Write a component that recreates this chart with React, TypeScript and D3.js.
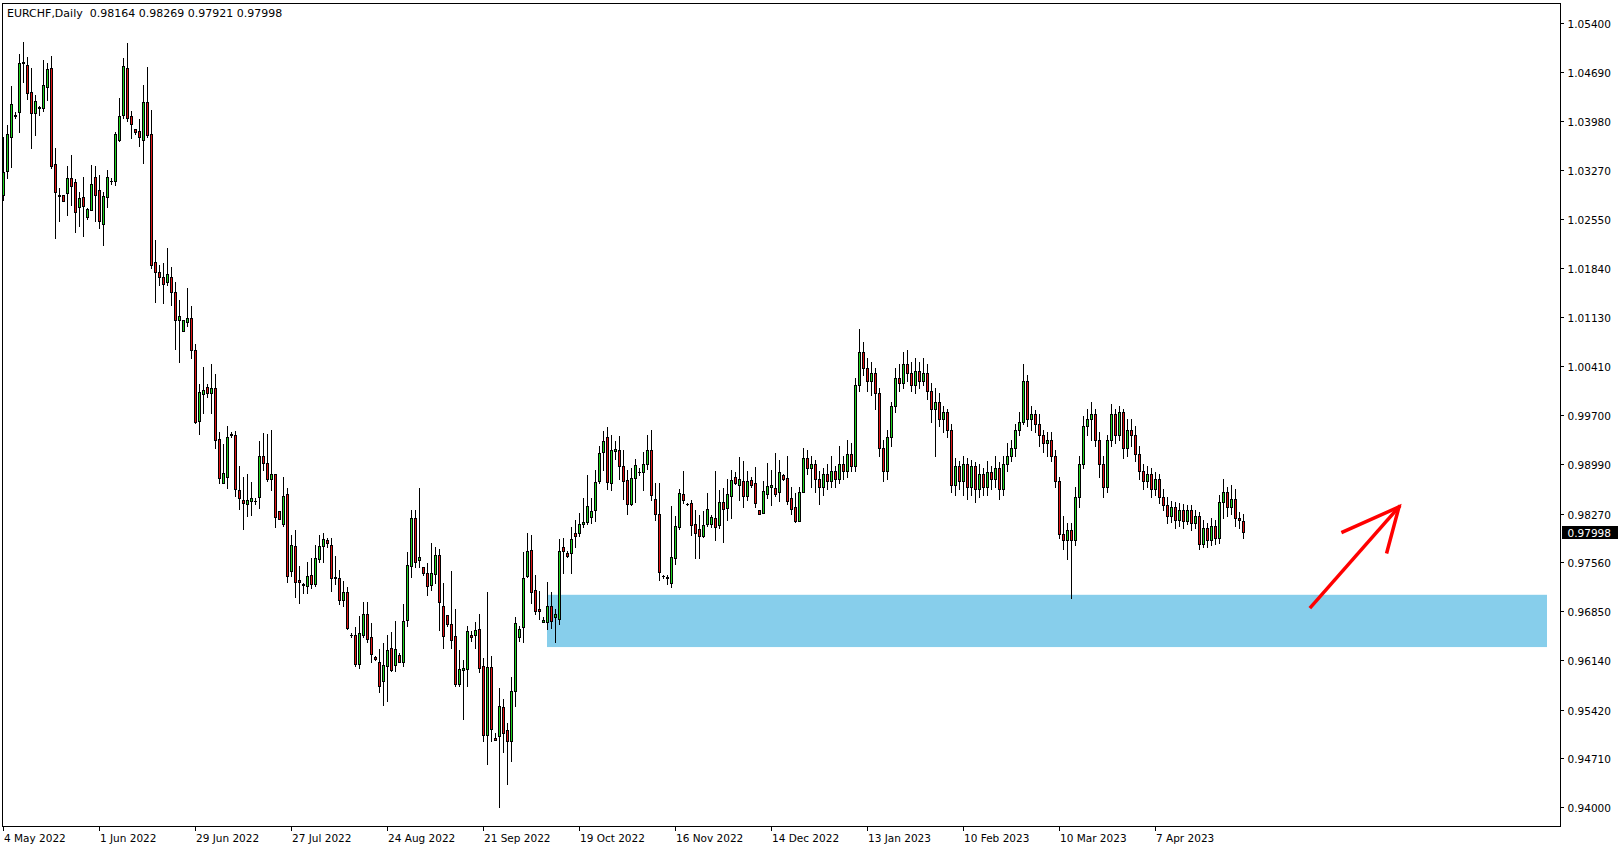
import React from 'react';
import * as d3 from 'd3';

// EURCHF Daily OHLC values (bar index 0 = 4 May 2022)
const opens = [
1.0290,1.0325,1.0374,1.0405,1.0411,1.0483,1.0480,1.0440,1.0409,1.0417,
1.0417,1.0447,1.0475,1.0335,1.0289,1.0291,1.0293,1.0315,1.0309,1.0273,
1.0287,1.0258,1.0269,1.0316,1.0297,1.0248,1.0288,1.0310,1.0310,1.0370,
1.0406,1.0475,1.0405,1.0386,1.0384,1.0371,1.0425,1.0379,1.0193,1.0179,
1.0171,1.0164,1.0171,1.0150,1.0108,1.0092,1.0105,1.0111,1.0065,0.9961,
1.0001,1.0011,1.0003,1.0009,0.9935,0.9871,0.9880,0.9942,0.9941,0.9862,
0.9847,0.9841,0.9846,0.9845,0.9851,0.9911,0.9900,0.9877,0.9884,0.9831,
0.9812,0.9856,0.9743,0.9780,0.9731,0.9723,0.9722,0.9738,0.9724,0.9761,
0.9780,0.9788,0.9781,0.9735,0.9733,0.9701,0.9713,0.9650,0.9650,0.9609,
0.9650,0.9681,0.9647,0.9619,0.9611,0.9583,0.9606,0.9631,0.9607,0.9622,
0.9612,0.9672,0.9751,0.9820,0.9759,0.9749,0.9740,0.9723,0.9739,0.9767,
0.9693,0.9679,0.9666,0.9649,0.9580,0.9599,0.9601,0.9651,0.9650,0.9659,
0.9606,0.9505,0.9604,0.9501,0.9504,0.9546,0.9512,0.9497,0.9569,0.9647,
0.9662,0.9736,0.9774,0.9716,0.9689,0.9669,0.9669,0.9693,0.9676,0.9674,
0.9779,0.9770,0.9770,0.9799,0.9799,0.9812,0.9815,0.9822,0.9833,0.9874,
0.9916,0.9938,0.9871,0.9918,0.9920,0.9896,0.9876,0.9841,0.9879,0.9887,
0.9888,0.9899,0.9920,0.9848,0.9827,0.9737,0.9734,0.9726,0.9762,0.9807,
0.9856,0.9841,0.9843,0.9812,0.9804,0.9794,0.9812,0.9812,0.9821,0.9810,
0.9844,0.9835,0.9853,0.9881,0.9869,0.9875,0.9852,0.9876,0.9872,0.9833,
0.9828,0.9855,0.9866,0.9864,0.9859,0.9883,0.9879,0.9850,0.9836,0.9817,
0.9859,0.9908,0.9893,0.9899,0.9878,0.9866,0.9884,0.9874,0.9889,0.9878,
0.9899,0.9889,0.9914,0.9896,1.0014,1.0062,1.0039,1.0020,1.0032,1.0002,
0.9923,0.9889,0.9939,0.9984,1.0024,1.0017,1.0044,1.0032,1.0014,1.0035,
1.0020,1.0032,1.0005,0.9979,0.9990,0.9964,0.9975,0.9949,0.9869,0.9896,
0.9874,0.9899,0.9866,0.9896,0.9863,0.9884,0.9866,0.9887,0.9878,0.9893,
0.9863,0.9899,0.9911,0.9923,0.9949,0.9960,1.0020,0.9964,0.9972,0.9957,
0.9942,0.9930,0.9934,0.9911,0.9874,0.9798,0.9788,0.9803,0.9788,0.9851,
0.9899,0.9954,0.9964,0.9972,0.9934,0.9899,0.9866,0.9934,0.9972,0.9942,
0.9975,0.9923,0.9949,0.9942,0.9914,0.9889,0.9874,0.9884,0.9863,0.9878,
0.9851,0.9839,0.9824,0.9836,0.9818,0.9833,0.9817,0.9832,0.9814,0.9824,
0.9783,0.9806,0.9788,0.9809,0.9791,0.9844,0.9859,0.9836,0.9848,0.9821,
0.98164];

const highs = [
1.0375,1.0392,1.0449,1.0411,1.0495,1.0513,1.0491,1.0475,1.0436,1.0420,
1.0487,1.0482,1.0492,1.0358,1.0301,1.0291,1.0333,1.0348,1.0314,1.0295,
1.0317,1.0271,1.0334,1.0333,1.0319,1.0295,1.0327,1.0315,1.0382,1.0431,
1.0490,1.0511,1.0413,1.0387,1.0401,1.0450,1.0477,1.0414,1.0225,1.0189,
1.0191,1.0213,1.0185,1.0164,1.0138,1.0109,1.0155,1.0129,1.0074,1.0016,
1.0040,1.0015,1.0045,1.0030,0.9946,0.9928,0.9954,0.9946,0.9947,0.9896,
0.9881,0.9884,0.9873,0.9850,0.9933,0.9944,0.9943,0.9949,0.9884,0.9831,
0.9880,0.9864,0.9796,0.9803,0.9751,0.9726,0.9756,0.9762,0.9782,0.9796,
0.9799,0.9791,0.9791,0.9766,0.9745,0.9729,0.9720,0.9653,0.9662,0.9678,
0.9699,0.9699,0.9668,0.9620,0.9630,0.9639,0.9651,0.9655,0.9671,0.9624,
0.9695,0.9771,0.9833,0.9833,0.9864,0.9749,0.9755,0.9785,0.9778,0.9776,
0.9726,0.9679,0.9744,0.9689,0.9628,0.9614,0.9664,0.9657,0.9670,0.9681,
0.9617,0.9713,0.9620,0.9508,0.9573,0.9557,0.9522,0.9590,0.9677,0.9664,
0.9771,0.9799,0.9796,0.9738,0.9714,0.9676,0.9727,0.9713,0.9689,0.9790,
0.9792,0.9773,0.9807,0.9818,0.9828,0.9850,0.9883,0.9850,0.9891,0.9925,
0.9947,0.9953,0.9942,0.9933,0.9940,0.9920,0.9891,0.9893,0.9907,0.9894,
0.9917,0.9942,0.9949,0.9872,0.9872,0.9738,0.9738,0.9838,0.9824,0.9863,
0.9889,0.9842,0.9847,0.9833,0.9825,0.9831,0.9857,0.9825,0.9889,0.9862,
0.9864,0.9877,0.9891,0.9887,0.9909,0.9904,0.9889,0.9880,0.9895,0.9833,
0.9875,0.9901,0.9891,0.9915,0.9905,0.9884,0.9911,0.9866,0.9857,0.9866,
0.9923,0.9919,0.9911,0.9905,0.9889,0.9893,0.9899,0.9911,0.9896,0.9926,
0.9911,0.9934,0.9930,1.0024,1.0095,1.0077,1.0054,1.0047,1.0039,1.0009,
0.9934,0.9949,0.9990,1.0039,1.0044,1.0062,1.0065,1.0047,1.0054,1.0047,
1.0054,1.0044,1.0017,1.0009,1.0002,0.9984,0.9979,0.9957,0.9908,0.9904,
0.9911,0.9908,0.9905,0.9902,0.9899,0.9893,0.9904,0.9896,0.9911,0.9902,
0.9911,0.9930,0.9934,0.9957,0.9975,1.0044,1.0029,0.9984,0.9978,0.9972,
0.9949,0.9945,0.9945,0.9919,0.9881,0.9824,0.9814,0.9814,0.9866,0.9911,
0.9969,0.9979,0.9990,0.9979,0.9945,0.9911,0.9942,0.9987,0.9979,0.9984,
0.9979,0.9964,0.9964,0.9954,0.9926,0.9899,0.9896,0.9893,0.9887,0.9884,
0.9863,0.9851,0.9845,0.9844,0.9842,0.9841,0.9839,0.9839,0.9833,0.9830,
0.9818,0.9814,0.9821,0.9818,0.9854,0.9878,0.9866,0.9869,0.9863,0.9829,
0.98269];

const lows = [
1.0283,1.0315,1.0331,1.0402,1.0382,1.0455,1.0430,1.0359,1.0377,1.0406,
1.0413,1.0428,1.0329,1.0228,1.0253,1.0282,1.0261,1.0276,1.0236,1.0245,
1.0230,1.0256,1.0268,1.0252,1.0242,1.0217,1.0273,1.0307,1.0305,1.0369,
1.0402,1.0398,1.0373,1.0379,1.0361,1.0337,1.0375,1.0184,1.0135,1.0160,
1.0134,1.0160,1.0130,1.0066,1.0048,1.0092,1.0100,1.0053,0.9959,0.9943,
0.9974,0.9997,0.9974,0.9922,0.9871,0.9871,0.9864,0.9938,0.9853,0.9834,
0.9804,0.9823,0.9825,0.9841,0.9835,0.9890,0.9875,0.9861,0.9808,0.9819,
0.9809,0.9728,0.9736,0.9706,0.9697,0.9712,0.9711,0.9719,0.9722,0.9757,
0.9757,0.9778,0.9715,0.9724,0.9696,0.9692,0.9659,0.9648,0.9606,0.9602,
0.9648,0.9640,0.9611,0.9614,0.9568,0.9549,0.9555,0.9598,0.9598,0.9612,
0.9606,0.9663,0.9735,0.9750,0.9750,0.9738,0.9709,0.9716,0.9726,0.9658,
0.9631,0.9664,0.9632,0.9576,0.9577,0.9529,0.9576,0.9642,0.9631,0.9597,
0.9496,0.9463,0.9496,0.9498,0.9401,0.9481,0.9434,0.9468,0.9547,0.9642,
0.9641,0.9735,0.9697,0.9681,0.9674,0.9669,0.9659,0.9661,0.9641,0.9666,
0.9740,0.9764,0.9740,0.9778,0.9794,0.9807,0.9812,0.9813,0.9817,0.9871,
0.9891,0.9863,0.9862,0.9907,0.9878,0.9849,0.9827,0.9839,0.9844,0.9883,
0.9862,0.9892,0.9847,0.9818,0.9731,0.9733,0.9725,0.9721,0.9754,0.9804,
0.9842,0.9840,0.9796,0.9762,0.9762,0.9793,0.9809,0.9808,0.9788,0.9806,
0.9786,0.9818,0.9820,0.9870,0.9847,0.9837,0.9847,0.9866,0.9837,0.9826,
0.9828,0.9850,0.9840,0.9852,0.9846,0.9876,0.9841,0.9826,0.9815,0.9816,
0.9858,0.9884,0.9866,0.9859,0.9841,0.9854,0.9863,0.9866,0.9866,0.9872,
0.9878,0.9881,0.9889,0.9889,1.0005,1.0029,1.0005,0.9999,0.9979,0.9911,
0.9874,0.9878,0.9926,0.9975,1.0005,1.0009,1.0020,1.0005,1.0002,1.0009,
1.0014,0.9994,0.9960,0.9911,0.9954,0.9945,0.9939,0.9859,0.9854,0.9863,
0.9854,0.9848,0.9854,0.9844,0.9851,0.9854,0.9854,0.9863,0.9866,0.9848,
0.9854,0.9889,0.9904,0.9911,0.9942,0.9957,0.9954,0.9949,0.9945,0.9926,
0.9917,0.9911,0.9904,0.9866,0.9791,0.9776,0.9761,0.9704,0.9782,0.9836,
0.9893,0.9942,0.9934,0.9926,0.9881,0.9851,0.9859,0.9926,0.9930,0.9934,
0.9908,0.9911,0.9926,0.9904,0.9878,0.9863,0.9866,0.9851,0.9854,0.9842,
0.9833,0.9814,0.9815,0.9806,0.9809,0.9806,0.9812,0.9803,0.9806,0.9776,
0.9779,0.9779,0.9782,0.9783,0.9785,0.9821,0.9824,0.9827,0.9809,0.9806,
0.97921];

const closes = [
1.0324,1.0379,1.0422,1.0406,1.0482,1.0484,1.0438,1.0409,1.0427,1.0418,
1.0450,1.0474,1.0333,1.0295,1.0290,1.0282,1.0315,1.0304,1.0266,1.0286,
1.0275,1.0270,1.0307,1.0290,1.0252,1.0289,1.0316,1.0311,1.0379,1.0405,
1.0478,1.0403,1.0393,1.0382,1.0374,1.0426,1.0378,1.0189,1.0179,1.0171,
1.0161,1.0175,1.0150,1.0108,1.0115,1.0109,1.0111,1.0065,0.9960,1.0004,
1.0007,1.0002,1.0009,0.9934,0.9879,0.9886,0.9938,0.9943,0.9863,0.9850,
0.9842,0.9847,0.9850,0.9846,0.9911,0.9901,0.9878,0.9884,0.9822,0.9819,
0.9852,0.9736,0.9781,0.9728,0.9727,0.9724,0.9737,0.9724,0.9763,0.9780,
0.9790,0.9784,0.9733,0.9733,0.9701,0.9713,0.9661,0.9651,0.9608,0.9653,
0.9681,0.9645,0.9623,0.9616,0.9576,0.9607,0.9629,0.9600,0.9630,0.9612,
0.9671,0.9752,0.9820,0.9756,0.9764,0.9741,0.9722,0.9740,0.9767,0.9698,
0.9649,0.9666,0.9643,0.9580,0.9601,0.9602,0.9656,0.9647,0.9658,0.9603,
0.9505,0.9604,0.9514,0.9498,0.9548,0.9508,0.9496,0.9569,0.9668,0.9659,
0.9733,0.9772,0.9713,0.9686,0.9685,0.9673,0.9693,0.9671,0.9681,0.9773,
0.9772,0.9766,0.9790,0.9795,0.9812,0.9815,0.9838,0.9831,0.9873,0.9915,
0.9932,0.9873,0.9919,0.9921,0.9896,0.9875,0.9841,0.9879,0.9898,0.9888,
0.9899,0.9920,0.9854,0.9826,0.9742,0.9736,0.9735,0.9764,0.9809,0.9857,
0.9847,0.9841,0.9811,0.9799,0.9794,0.9810,0.9834,0.9822,0.9808,0.9844,
0.9834,0.9856,0.9876,0.9871,0.9877,0.9853,0.9875,0.9868,0.9843,0.9826,
0.9860,0.9867,0.9868,0.9855,0.9888,0.9877,0.9846,0.9834,0.9816,0.9858,
0.9908,0.9893,0.9899,0.9878,0.9866,0.9884,0.9874,0.9889,0.9878,0.9899,
0.9889,0.9914,0.9896,1.0014,1.0062,1.0039,1.0020,1.0032,1.0002,0.9923,
0.9889,0.9939,0.9984,1.0024,1.0017,1.0044,1.0032,1.0014,1.0035,1.0020,
1.0032,1.0005,0.9979,0.9990,0.9964,0.9975,0.9949,0.9869,0.9896,0.9874,
0.9899,0.9866,0.9896,0.9863,0.9884,0.9866,0.9887,0.9878,0.9893,0.9863,
0.9899,0.9911,0.9923,0.9949,0.9960,1.0020,0.9964,0.9972,0.9957,0.9942,
0.9930,0.9934,0.9911,0.9874,0.9798,0.9788,0.9803,0.9788,0.9851,0.9899,
0.9954,0.9964,0.9972,0.9934,0.9899,0.9866,0.9934,0.9972,0.9942,0.9975,
0.9923,0.9949,0.9942,0.9914,0.9889,0.9874,0.9884,0.9863,0.9878,0.9851,
0.9839,0.9824,0.9836,0.9818,0.9833,0.9817,0.9832,0.9814,0.9824,0.9783,
0.9806,0.9788,0.9809,0.9791,0.9844,0.9859,0.9836,0.9848,0.9821,0.9818,
0.97998];

const priceTicks = [1.054, 1.0469, 1.0398, 1.0327, 1.0255, 1.0184, 1.0113, 1.0041,
  0.997, 0.9899, 0.9827, 0.9756, 0.9685, 0.9614, 0.9542, 0.9471, 0.94];

const dateTickBars = [0, 24, 48, 72, 96, 120, 144, 168, 192, 216, 240, 264, 288];
const dateTickLabels = ['4 May 2022', '1 Jun 2022', '29 Jun 2022', '27 Jul 2022', '24 Aug 2022',
  '21 Sep 2022', '19 Oct 2022', '16 Nov 2022', '14 Dec 2022', '13 Jan 2023', '10 Feb 2023',
  '10 Mar 2023', '7 Apr 2023'];

const symbolTitle = 'EURCHF,Daily';
const lastBarValues = [0.98164, 0.98269, 0.97921, 0.97998];

// demand zone (bar index span, price span)
const zoneBars = [136, 386];
const zonePrices = [0.9709, 0.9633];

// arrow annotation (bar index, price)
const arrowShaft = [[327, 0.96914], [349, 0.98368]];
const arrowHeads = [[335, 0.98005], [346, 0.97714]];

const UP = '#1fd21f';
const DOWN = '#e01414';
const FONT = "Tahoma, 'DejaVu Sans', sans-serif";

export default function App() {
  const W = 1624;
  const H = 850;
  const plotLeft = 2, plotRight = 1560, plotTop = 3, plotBottom = 826;

  const x = d3.scaleLinear().domain([0, 310]).range([3, 1243]);
  const y = d3.scaleLinear().domain([0.94, 1.054]).range([807.3, 23.3]);
  const fmt = d3.format('.5f');

  const candles = opens.map((o, i) => {
    const c = closes[i];
    const cx = Math.round(x(i));
    const top = Math.round(y(Math.max(o, c)));
    const bot = Math.round(y(Math.min(o, c)));
    const hi = Math.round(y(highs[i]));
    const lo = Math.round(y(lows[i]));
    const up = c >= o;
    return (
      <g key={i}>
        <line x1={cx + 0.5} x2={cx + 0.5} y1={hi} y2={lo + 1} stroke="#000" strokeWidth={1} />
        {bot - top > 0 ? (
          <rect x={cx - 0.5} y={top + 0.5} width={2} height={bot - top}
            fill={up ? UP : DOWN} stroke="#000" strokeWidth={1} />
        ) : (
          <line x1={cx - 1} x2={cx + 2} y1={top + 0.5} y2={top + 0.5} stroke="#000" strokeWidth={1} />
        )}
      </g>
    );
  });

  const lastClose = lastBarValues[3];
  const lastY = Math.round(y(lastClose));
  const line = d3.line<number[]>().x(d => x(d[0])).y(d => y(d[1]));

  return (
    <svg width={W} height={H} style={{ position: 'absolute', left: 0, top: 0, display: 'block', background: '#fff' }}
      fontFamily={FONT}>
      <rect x={0} y={0} width={W} height={H} fill="#fff" />
      {/* demand zone */}
      <rect x={x(zoneBars[0])} y={y(zonePrices[0])} width={x(zoneBars[1]) - x(zoneBars[0])}
        height={y(zonePrices[1]) - y(zonePrices[0])} fill="#87ceeb" />
      {/* candles */}
      <g>{candles}</g>
      {/* arrow */}
      <g stroke="#ff0000" strokeWidth={3.5} fill="none" strokeLinecap="square">
        <path d={line(arrowShaft as number[][]) || ''} />
        <path d={line([arrowHeads[0], arrowShaft[1], arrowHeads[1]] as number[][]) || ''} strokeLinejoin="miter" />
      </g>
      {/* frame */}
      <rect x={plotLeft + 0.5} y={plotTop + 0.5} width={plotRight - plotLeft} height={plotBottom - plotTop}
        fill="none" stroke="#000" strokeWidth={1} />
      {/* title */}
      <text x={7} y={16.5} fontSize={11} fill="#000" style={{ whiteSpace: 'pre' }}>
        {symbolTitle + '  ' + lastBarValues.map(v => fmt(v)).join(' ')}
      </text>
      {/* price axis */}
      {priceTicks.map((t, i) => {
        const ty = Math.round(y(t));
        return (
          <g key={i}>
            <line x1={plotRight + 1} x2={plotRight + 4} y1={ty + 0.5} y2={ty + 0.5} stroke="#000" />
            <text x={1567.5} y={ty + 4.5} fontSize={10.5} fill="#000">{fmt(t)}</text>
          </g>
        );
      })}
      <rect x={1562} y={lastY - 6} width={56} height={13} fill="#000" />
      <text x={1567.5} y={lastY + 4.5} fontSize={10.5} fill="#fff">{fmt(lastClose)}</text>
      {/* time axis */}
      {dateTickBars.map((b, i) => {
        const tx = Math.round(x(b));
        return (
          <g key={i}>
            <line x1={tx + 0.5} x2={tx + 0.5} y1={plotBottom + 1} y2={plotBottom + 5} stroke="#000" />
            <text x={tx + 1} y={841.5} fontSize={10.5} fill="#000">{dateTickLabels[i]}</text>
          </g>
        );
      })}
    </svg>
  );
}
